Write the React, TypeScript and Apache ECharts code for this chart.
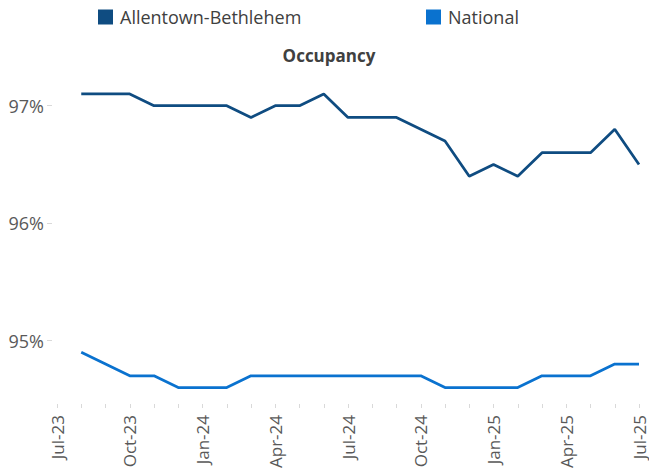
import React, { useEffect, useRef } from "react";
import * as echarts from "echarts";

const categories = [
  "Jul-23", "Aug-23", "Sep-23", "Oct-23", "Nov-23", "Dec-23",
  "Jan-24", "Feb-24", "Mar-24", "Apr-24", "May-24", "Jun-24",
  "Jul-24", "Aug-24", "Sep-24", "Oct-24", "Nov-24", "Dec-24",
  "Jan-25", "Feb-25", "Mar-25", "Apr-25", "May-25", "Jun-25", "Jul-25",
];

const allentown: (number | null)[] = [
  null, 97.1, 97.1, 97.1, 97.0, 97.0,
  97.0, 97.0, 96.9, 97.0, 97.0, 97.1,
  96.9, 96.9, 96.9, 96.8, 96.7, 96.4,
  96.5, 96.4, 96.6, 96.6, 96.6, 96.8, 96.5,
];

const national: (number | null)[] = [
  null, 94.9, 94.8, 94.7, 94.7, 94.6,
  94.6, 94.6, 94.7, 94.7, 94.7, 94.7,
  94.7, 94.7, 94.7, 94.7, 94.6, 94.6,
  94.6, 94.6, 94.7, 94.7, 94.7, 94.8, 94.8,
];

const yTicks = [95, 96, 97];

const FONT = "'Open Sans', sans-serif";
const C_ALLEN = "#0F4C81";
const C_NAT = "#0A72CF";

export default function App() {
  const ref = useRef<HTMLDivElement>(null);
  useEffect(() => {
    if (!ref.current) return;
    const chart = echarts.init(ref.current, undefined, { renderer: "svg" });
    chart.setOption({
      animation: false,
      backgroundColor: "#ffffff",
      textStyle: { fontFamily: FONT },
      title: {
        text: "Occupancy",
        left: 329,
        textAlign: "center",
        top: 47,
        padding: 0,
        textStyle: { fontFamily: FONT, fontSize: 17, fontWeight: "bold", color: "#404040" },
      },
      legend: [
        {
          data: ["Allentown-Bethlehem"],
          left: 98,
          top: 8,
          padding: 0,
          icon: "rect",
          itemWidth: 15,
          itemHeight: 15,
          textStyle: { fontFamily: FONT, fontSize: 18, color: "#404040", padding: [0, 0, 0, 2] },
        },
        {
          data: ["National"],
          left: 426,
          top: 8,
          padding: 0,
          icon: "rect",
          itemWidth: 15,
          itemHeight: 15,
          textStyle: { fontFamily: FONT, fontSize: 18, color: "#404040", padding: [0, 0, 0, 2] },
        },
      ],
      grid: { left: 57, right: 10, top: 47, bottom: 65, containLabel: false },
      xAxis: {
        type: "category",
        data: categories,
        boundaryGap: false,
        axisLine: { show: false },
        axisTick: { show: true, interval: 0, length: 4, lineStyle: { color: "#d9d9d9" } },
        axisLabel: {
          interval: 2,
          rotate: 90,
          margin: 11,
          fontFamily: FONT,
          fontSize: 17,
          color: "#595959",
        },
        splitLine: { show: false },
      },
      yAxis: {
        type: "value",
        min: 94.46,
        max: 97.5,
        offset: 5,
        axisLine: { show: false },
        axisTick: { show: true, length: 5, customValues: yTicks, lineStyle: { color: "#d9d9d9" } },
        axisLabel: {
          customValues: yTicks,
          formatter: (v: number) => `${Math.round(v)}%`,
          margin: 8,
          fontFamily: FONT,
          fontSize: 18,
          color: "#595959",
        },
        splitLine: { show: false },
      },
      series: [
        {
          name: "Allentown-Bethlehem",
          type: "line",
          data: allentown,
          symbol: "none",
          lineStyle: { color: C_ALLEN, width: 2.75 },
          itemStyle: { color: C_ALLEN },
        },
        {
          name: "National",
          type: "line",
          data: national,
          symbol: "none",
          lineStyle: { color: C_NAT, width: 2.75 },
          itemStyle: { color: C_NAT },
        },
      ],
    });
    return () => chart.dispose();
  }, []);
  return (
    <div
      ref={ref}
      style={{ position: "absolute", left: 0, top: 0, width: 649, height: 471 }}
    />
  );
}
